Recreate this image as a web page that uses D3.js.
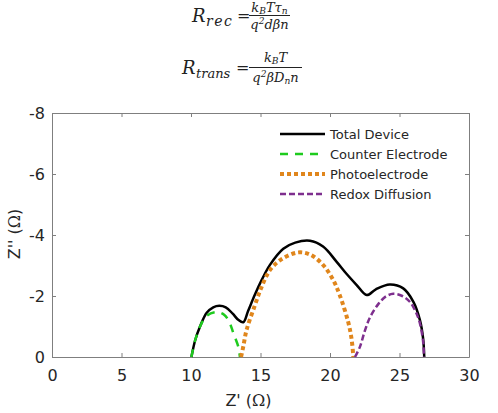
<!DOCTYPE html>
<html>
<head>
<meta charset="utf-8">
<script src="https://cdn.jsdelivr.net/npm/d3@7"></script>
<style>
  body { margin: 0; background: #fff; }
  text { font-family: "DejaVu Sans", Arial, sans-serif; fill: #262626; }
  .eq { font-family: "DejaVu Serif", "Liberation Serif", serif; font-style: italic; fill: #222; }
</style>
</head>
<body>
<div id="chart"></div>
<script>
  // tick values
  var xTicks = [0, 5, 10, 15, 20, 25, 30];
  var yTicks = [0, -2, -4, -6, -8];

  // series (Z', Z'')
  var totalX = [10.03, 10.3, 10.65, 11.13, 11.6, 12.04, 12.5, 13.0, 13.4, 13.76, 14.1, 14.6, 15.08, 15.68, 16.64, 17.5, 18.56, 19.5, 20.48, 21.2, 21.92, 22.64, 23.3, 24.3, 25.27, 26.0, 26.47, 26.7, 26.78];
  var totalY = [0, -0.55, -1.0, -1.45, -1.63, -1.68, -1.63, -1.42, -1.22, -1.14, -1.5, -2.05, -2.52, -3.02, -3.55, -3.75, -3.81, -3.62, -3.12, -2.72, -2.36, -2.03, -2.22, -2.38, -2.25, -1.81, -1.21, -0.6, 0];

  var counterX = [10.03, 10.3, 10.65, 11.13, 11.85, 12.4, 12.8, 13.05, 13.4, 13.52];
  var counterY = [0, -0.55, -1.0, -1.35, -1.47, -1.38, -1.1, -0.78, -0.34, 0];

  var photoX = [13.6, 13.76, 14.0, 14.6, 15.08, 15.68, 16.5, 17.72, 18.6, 19.5, 20.2, 20.7, 21.3, 21.55, 21.68];
  var photoY = [0, -0.34, -0.89, -1.7, -2.3, -2.85, -3.2, -3.43, -3.35, -3.02, -2.55, -2.03, -1.16, -0.6, 0];

  var redoxX = [21.8, 22.16, 22.5, 22.88, 23.5, 24.0, 24.55, 25.2, 25.76, 26.2, 26.47, 26.7, 26.76];
  var redoxY = [0, -0.34, -0.85, -1.3, -1.75, -1.98, -2.07, -2.0, -1.8, -1.45, -1.1, -0.5, 0];

  var seriesNames = ["Total Device", "Counter Electrode", "Photoelectrode", "Redox Diffusion"];

  var svgWidth = 498;
  var svgHeight = 413;
  var margin = { top: 113, bottom: 56, right: 29, left: 52 };
  var width = svgWidth - margin.left - margin.right;
  var height = svgHeight - margin.top - margin.bottom;

  var svg = d3.select("#chart")
    .append("svg")
    .attr("width", svgWidth)
    .attr("height", svgHeight);

  // equations above the chart
  var eq = svg.append("g");

  function piece(str, x, y, size, opts) {
    opts = opts || {};
    var t = eq.append("text").attr("class", "eq")
      .attr("x", x).attr("y", y).attr("font-size", size).text(str);
    if (opts.spacing) t.attr("letter-spacing", opts.spacing);
    if (opts.upright) t.attr("font-style", "normal");
    return t;
  }
  // builds "a_b c" style runs: parts = [text, "sub" | "sup" | null]
  function run(parts, cx, y, size) {
    var t = eq.append("text").attr("class", "eq")
      .attr("x", cx).attr("y", y).attr("font-size", size).attr("text-anchor", "middle");
    var shift = 0;
    parts.forEach(function(p) {
      var target = p[1] === "sub" ? 2 : p[1] === "sup" ? -5 : 0;
      t.append("tspan")
        .attr("font-size", p[1] ? size * 0.7 : size)
        .attr("dy", target - shift)
        .text(p[0]);
      shift = target;
    });
    return t;
  }
  function bar(x1, x2, y) {
    eq.append("line").attr("x1", x1).attr("x2", x2).attr("y1", y).attr("y2", y)
      .attr("stroke", "#222").attr("stroke-width", 1);
  }

  piece("R", 192, 22, 18);
  piece("rec", 206, 26, 14, { spacing: 1.5 });
  piece("=", 237, 21, 16, { upright: true });
  bar(249, 290, 15.5);
  run([["k"], ["B", "sub"], ["T"], ["τ"], ["n", "sub"]], 269.5, 12, 13);
  run([["q"], ["2", "sup"], ["dβn"]], 269.5, 29, 13);

  piece("R", 182, 74, 18);
  piece("trans", 196, 78, 13);
  piece("=", 236, 73, 16, { upright: true });
  bar(249, 302, 67.5);
  run([["k"], ["B", "sub"], ["T"]], 275.5, 62, 13);
  run([["q"], ["2", "sup"], ["βD"], ["n", "sub"], ["n"]], 275.5, 82, 13);

  var chartGroup = svg.append("g")
    .attr("transform", `translate(${margin.left}, ${margin.top})`);

  var xScale = d3.scaleLinear().domain([0, 30]).range([0, width]);
  var yScale = d3.scaleLinear().domain([0, -8]).range([height, 0]);

  // axes, ticks inside on all four sides
  var axisColor = "#7f7f7f";
  function styleAxis(g) {
    g.select(".domain").attr("stroke", axisColor);
    g.selectAll(".tick line").attr("stroke", axisColor);
    g.selectAll(".tick text").attr("font-size", 16).attr("fill", "#262626")
      .attr("font-family", "DejaVu Sans, Arial, sans-serif");
  }

  chartGroup.append("g")
    .attr("transform", `translate(0, ${height})`)
    .call(d3.axisBottom(xScale).tickValues(xTicks).tickSize(-4).tickPadding(13).tickSizeOuter(0))
    .call(styleAxis);
  chartGroup.append("g")
    .call(d3.axisTop(xScale).tickValues(xTicks).tickSize(-4).tickFormat("").tickSizeOuter(0))
    .call(styleAxis);
  chartGroup.append("g")
    .call(d3.axisLeft(yScale).tickValues(yTicks).tickSize(-4).tickPadding(7).tickSizeOuter(0)
      .tickFormat(d => d === 0 ? "0" : "-" + Math.abs(d)))
    .call(styleAxis);
  chartGroup.append("g")
    .attr("transform", `translate(${width}, 0)`)
    .call(d3.axisRight(yScale).tickValues(yTicks).tickSize(-4).tickFormat("").tickSizeOuter(0))
    .call(styleAxis);

  // axis labels
  var xl = chartGroup.append("text")
    .attr("x", xScale(15) - 12)
    .attr("y", height + 49)
    .attr("text-anchor", "middle")
    .attr("font-size", 16);
  xl.append("tspan").text("Z' (");
  xl.append("tspan").attr("font-family", "DejaVu Serif, serif").text("Ω");
  xl.append("tspan").text(")");

  var yl = chartGroup.append("text")
    .attr("transform", "rotate(-90)")
    .attr("x", -(yScale(-4) - 1))
    .attr("y", -32)
    .attr("text-anchor", "middle")
    .attr("font-size", 16);
  yl.append("tspan").text("Z'' (");
  yl.append("tspan").attr("font-family", "DejaVu Serif, serif").text("Ω");
  yl.append("tspan").text(")");

  // lines
  var series = [
    { name: seriesNames[0], xs: totalX, ys: totalY, color: "#000000", width: 2.5, dash: null },
    { name: seriesNames[1], xs: counterX, ys: counterY, color: "#1ecb1e", width: 2.5, dash: "8,7" },
    { name: seriesNames[2], xs: photoX, ys: photoY, color: "#e0861c", width: 4, dash: "4,3" },
    { name: seriesNames[3], xs: redoxX, ys: redoxY, color: "#7e2f8e", width: 2.5, dash: "6,3" }
  ];

  var line = d3.line()
    .x(d => xScale(d[0]))
    .y(d => yScale(d[1]))
    .curve(d3.curveCatmullRom.alpha(0.5));

  series.forEach(function(s) {
    var pts = s.xs.map((x, i) => [x, s.ys[i]]);
    chartGroup.append("path")
      .attr("d", line(pts))
      .attr("fill", "none")
      .attr("stroke", s.color)
      .attr("stroke-width", s.width)
      .attr("stroke-dasharray", s.dash);
  });

  // legend
  var legend = chartGroup.append("g").attr("transform", "translate(228, 21)");
  series.forEach(function(s, i) {
    var row = legend.append("g").attr("transform", `translate(0, ${i * 20})`);
    row.append("line")
      .attr("x1", 0).attr("x2", 45)
      .attr("y1", 0).attr("y2", 0)
      .attr("stroke", s.color)
      .attr("stroke-width", s.width)
      .attr("stroke-dasharray", s.dash);
    row.append("text")
      .attr("x", 50)
      .attr("y", 5)
      .attr("font-size", 13)
      .text(s.name);
  });
</script>
</body>
</html>
